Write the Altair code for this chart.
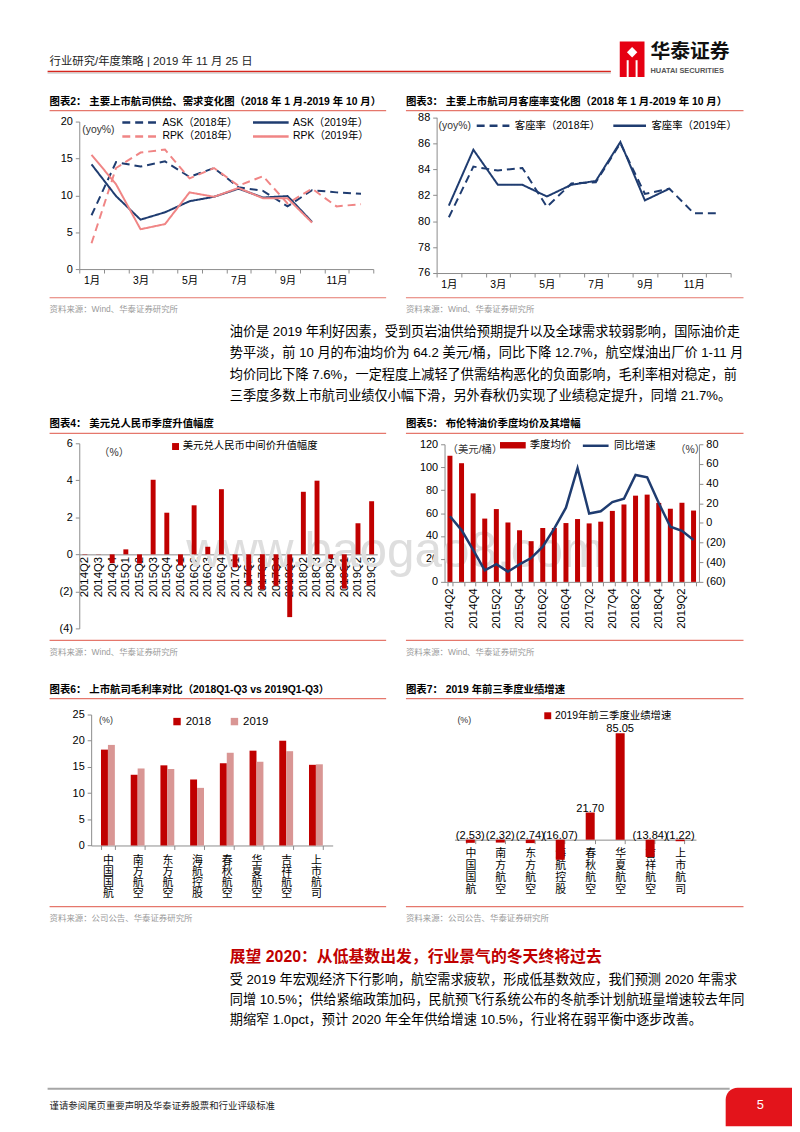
import altair as alt
import pandas as pd

# ============================ data ============================
months = [1, 2, 3, 4, 5, 6, 7, 8, 9, 10, 11, 12]
ask_2018 = [7.3, 14.5, 13.9, 14.6, 12.5, 13.7, 11.1, 10.6, 8.5, 10.7, 10.4, 10.2]
rpk_2018 = [3.5, 13.7, 15.8, 16.2, 12.3, 13.7, 11.3, 12.6, 8.9, 10.9, 8.5, 8.8]
ask_2019 = [14.2, 9.9, 6.7, 7.7, 9.2, 9.8, 10.9, 9.7, 9.9, 6.4]
rpk_2019 = [15.5, 11.5, 5.4, 6.1, 10.4, 9.8, 11.0, 9.6, 9.6, 6.3]
# legend fills column by column: ASK 2018 / RPK 2018 in column 1, 2019 in column 2
series2 = ["ASK（2018年）", "RPK（2018年）", "ASK（2019年）", "RPK（2019年）"]

plf_2018 = [80.3, 84.2, 83.9, 84.1, 81.1, 82.9, 83.0, 86.0, 82.1, 82.5, 80.6, 80.6]
plf_2019 = [81.2, 85.5, 82.8, 82.8, 81.9, 82.8, 83.1, 86.1, 81.6, 82.5]
series3 = ["客座率（2018年）", "客座率（2019年）"]

quarters = ["2014Q2", "2014Q3", "2014Q4", "2015Q1", "2015Q2", "2015Q3", "2015Q4",
            "2016Q1", "2016Q2", "2016Q3", "2016Q4", "2017Q1", "2017Q2", "2017Q3",
            "2017Q4", "2018Q1", "2018Q2", "2018Q3", "2018Q4", "2019Q1", "2019Q2", "2019Q3"]
cny_change = [0.02, 0.01, -0.48, 0.27, -0.5, 4.03, 2.25, -0.6, 2.65, 0.41, 3.52,
              -0.7, -1.7, -1.9, -1.7, -3.39, 3.38, 3.98, -0.23, -1.85, 1.68, 2.87]
brent_avg = [110.0, 103.5, 77.2, 55.2, 63.5, 51.8, 45.0, 35.5, 47.0, 47.0, 51.3,
             54.8, 51.0, 52.5, 61.9, 67.5, 75.2, 76.1, 68.9, 63.8, 69.0, 62.2]
brent_yoy = [6.8, -7.3, -27.4, -48.3, -41.9, -49.6, -42.2, -35.8, -24.1, -5.6, 15.5,
             55.8, 9.5, 11.8, 21.2, 24.6, 48.8, 46.4, 20.2, -3.9, -8.0, -17.4]

airlines = ["中国国航", "南方航空", "东方航空", "海航控股", "春秋航空", "华夏航空", "吉祥航空", "上市航司"]
gm_2018 = [18.3, 13.5, 15.3, 12.6, 15.7, 18.1, 20.0, 15.4]
gm_2019 = [19.2, 14.7, 14.6, 11.0, 17.7, 16.0, 18.0, 15.5]
profit_growth = [-2.53, -2.32, -2.74, -16.07, 21.70, 85.05, -13.84, -1.22]

para1 = [
    "油价是 2019 年利好因素，受到页岩油供给预期提升以及全球需求较弱影响，国际油价走",
    "势平淡，前 10 月的布油均价为 64.2 美元/桶，同比下降 12.7%，航空煤油出厂价 1-11 月",
    "均价同比下降  7.6%，一定程度上减轻了供需结构恶化的负面影响，毛利率相对稳定，前",
    "三季度多数上市航司业绩仅小幅下滑，另外春秋仍实现了业绩稳定提升，同增 21.7%。",
]
heading2 = "展望 2020：从低基数出发，行业景气的冬天终将过去"
para2 = [
    "受 2019 年宏观经济下行影响，航空需求疲软，形成低基数效应，我们预测 2020 年需求",
    "同增 10.5%；供给紧缩政策加码，民航预飞行系统公布的冬航季计划航班量增速较去年同",
    "期缩窄 1.0pct，预计 2020 年全年供给增速 10.5%，行业将在弱平衡中逐步改善。",
]

# ============================ layout / style ============================
W, H = 784, 1116
M = 8


def X(p):
    return p - M


def Y(p):
    return p - M


SANS = "Liberation Sans, Noto Sans CJK SC"
NAVY = "#1F3C70"
PINK = "#F08585"
RED = "#C00000"
ROSE = "#D99694"
RULE_RED = "#E5776C"
AXIS_GRAY = "#8C8C8C"
SRC_GRAY = "#9A9A9A"
PAREN = "datum.value < 0 ? '(' + abs(datum.value) + ')' : datum.label"


def text_layer(s, x, y, size=10.5, color="#000000", weight="normal", align="left",
               baseline="middle", font=SANS, **kw):
    return alt.Chart(pd.DataFrame({"t": [s]})).mark_text(
        align=align, baseline=baseline, fontSize=size, color=color,
        fontWeight=weight, font=font, **kw
    ).encode(x=alt.value(X(x)), y=alt.value(Y(y)), text="t:N")


def hline(x1, x2, y, color, width=1.0):
    return alt.Chart(pd.DataFrame({"t": [0]})).mark_rule(color=color, strokeWidth=width).encode(
        x=alt.value(X(x1)), x2=alt.value(X(x2)), y=alt.value(Y(y)))


def rect(x1, x2, y1, y2, color, **kw):
    return alt.Chart(pd.DataFrame({"t": [0]})).mark_rect(color=color, **kw).encode(
        x=alt.value(X(x1)), x2=alt.value(X(x2)), y=alt.value(Y(y1)), y2=alt.value(Y(y2)))


def y_axis(xpos, values, orient="left", expr=None, size=11):
    off = -X(xpos) if orient == "left" else X(xpos) - W
    kw = dict(orient=orient, offset=off, values=values, title=None, grid=False,
              domainColor=AXIS_GRAY, tickColor=AXIS_GRAY, tickSize=4,
              labelFont=SANS, labelFontSize=size, labelColor="#000000", labelPadding=3)
    if expr:
        kw["labelExpr"] = expr
    return alt.Axis(**kw)


def x_axis(ypos, expr=None, angle=0, ticks=True, size=11, pad=3, **extra):
    kw = dict(orient="bottom", offset=Y(ypos) - H, title=None, grid=False,
              domainColor=AXIS_GRAY, tickColor=AXIS_GRAY, tickSize=4, ticks=ticks,
              tickBand="extent", labelFont=SANS, labelFontSize=size,
              labelColor="#000000", labelAngle=angle, labelPadding=pad)
    if expr:
        kw["labelExpr"] = expr
    kw.update(extra)
    return alt.Axis(**kw)


def band(domain, x0, x1, pin, pout):
    return alt.Scale(type="band", domain=domain, range=[X(x0), X(x1)],
                     paddingInner=pin, paddingOuter=pout)


def lin(domain, y0, y1):
    return alt.Scale(domain=domain, range=[Y(y0), Y(y1)], nice=False, zero=False)


def legend(x, y, **kw):
    base = dict(orient="none", legendX=X(x), legendY=Y(y), title=None,
                labelFont=SANS, labelFontSize=10.5, labelColor="#000000", padding=0)
    base.update(kw)
    return alt.Legend(**base)


layers = []

# watermark
layers.append(text_layer("www.baogao8.com", 188, 552, size=50, color="#DEDEDE",
                         font="Liberation Sans"))

# ============================ header ============================
layers.append(text_layer("行业研究/年度策略 | 2019 年 11 月 25 日", 50, 57, size=11.5, color="#222222"))
layers.append(hline(48, 617, 66.5, "#D7261E", 1.5))
layers.append(hline(48, 617, 68, "#BFBFBF", 1))
layers.append(rect(626, 651, 36, 72, "#E60012"))
layers.append(alt.Chart(pd.DataFrame({"t": [0]})).mark_point(
    shape="diamond", filled=True, color="white", size=110, opacity=1).encode(
    x=alt.value(X(638.5)), y=alt.value(Y(47))))
layers.append(rect(633, 635, 55, 72, "white"))
layers.append(rect(642, 644, 55, 72, "white"))
layers.append(text_layer("华泰证券", 657, 47, size=20, weight="bold", color="#111111"))
layers.append(text_layer("HUATAI SECURITIES", 657, 65.5, size=7.5, weight="bold", color="#555555"))

# ============================ chart frames ============================
frames = [
    (50, 390, 97, 295, "图表2：  主要上市航司供给、需求变化图（2018 年 1 月-2019 年 10 月）", "资料来源：Wind、华泰证券研究所"),
    (410, 751, 97, 295, "图表3：  主要上市航司月客座率变化图（2018 年 1 月-2019 年 10 月）", "资料来源：Wind、华泰证券研究所"),
    (50, 390, 423, 641, "图表4：  美元兑人民币季度升值幅度", "资料来源：Wind、华泰证券研究所"),
    (410, 751, 423, 641, "图表5：  布伦特油价季度均价及其增幅", "资料来源：Wind、华泰证券研究所"),
    (50, 390, 691, 910, "图表6：  上市航司毛利率对比（2018Q1-Q3 vs 2019Q1-Q3）", "资料来源：公司公告、华泰证券研究所"),
    (410, 751, 691, 910, "图表7：  2019 年前三季度业绩增速", "资料来源：公司公告、华泰证券研究所"),
]
for x0, x1, ty, by, title, src in frames:
    layers.append(text_layer(title, x0, ty, size=10.5, weight="bold"))
    layers.append(hline(x0, x1, ty + 9, RULE_RED, 1.2))
    layers.append(hline(x0, x1, by, RULE_RED, 1.2))
    layers.append(text_layer(src, x0, by + 11.5, size=8.5, color=SRC_GRAY))

# ============================ chart 2 ============================
vals2 = {"ASK（2018年）": ask_2018, "RPK（2018年）": rpk_2018,
         "ASK（2019年）": ask_2019, "RPK（2019年）": rpk_2019}
rows = []
for name in series2:
    for m, v in zip(months, vals2[name]):
        rows.append({"month": m, "value": v, "series": name})
df2 = pd.DataFrame(rows)
MONTH_EXPR = "datum.value % 2 == 1 ? datum.value + '月' : ''"
leg2 = legend(134, 110.5, columns=2, symbolType="M-3,0H3", symbolSize=144,
              symbolStrokeWidth=2.5, labelOffset=15, columnPadding=9, rowPadding=1)
c2 = alt.Chart(df2).mark_line(strokeWidth=2).encode(
    x=alt.X("month:O", scale=band(months, 80, 377, 0, 0),
            axis=x_axis(266, expr=MONTH_EXPR, size=10.5), bandPosition=0.5),
    y=alt.Y("value:Q", scale=lin([0, 20], 266, 117), axis=y_axis(80, [0, 5, 10, 15, 20])),
    color=alt.Color("series:N", scale=alt.Scale(domain=series2, range=[NAVY, PINK, NAVY, PINK]), legend=leg2),
    strokeDash=alt.StrokeDash("series:N", scale=alt.Scale(domain=series2, range=[[8, 5], [8, 5], [1, 0], [1, 0]]), legend=leg2),
)
layers.append(c2)
layers.append(text_layer("(yoy%)", 83, 126, size=10.5, color="#333333"))

# ============================ chart 3 ============================
rows = []
for name, vals in zip(series3, [plf_2018, plf_2019]):
    for m, v in zip(months, vals):
        rows.append({"month": m, "value": v, "series": name})
df3 = pd.DataFrame(rows)
leg3 = legend(491, 114, columns=2, symbolType="M-3,0H3", symbolSize=121,
              symbolStrokeWidth=2.5, labelOffset=15, columnPadding=7)
c3 = alt.Chart(df3).mark_line(strokeWidth=2).encode(
    x=alt.X("month:O", scale=band(months, 441, 738, 0, 0),
            axis=x_axis(270, expr=MONTH_EXPR, size=10.5), bandPosition=0.5),
    y=alt.Y("value:Q", scale=lin([76, 88], 270, 112.7), axis=y_axis(441, [76, 78, 80, 82, 84, 86, 88])),
    color=alt.Color("series:N", scale=alt.Scale(domain=series3, range=[NAVY, NAVY]), legend=leg3),
    strokeDash=alt.StrokeDash("series:N", scale=alt.Scale(domain=series3, range=[[8, 5], [1, 0]]), legend=leg3),
)
layers.append(c3)
layers.append(text_layer("(yoy%)", 443, 121, size=10.5, color="#333333"))

# ============================ chart 4 ============================
s4 = "美元兑人民币中间价升值幅度"
df4 = pd.DataFrame({"q": quarters, "v": cny_change, "s": [s4] * len(quarters)})
c4 = alt.Chart(df4).mark_bar().encode(
    x=alt.X("q:N", scale=band(quarters, 80, 381, 0.64, 0.23),
            axis=x_axis(554.2, angle=-90, ticks=False, size=11.5, pad=2)),
    y=alt.Y("v:Q", scale=lin([-4, 6], 629, 442), axis=y_axis(80, [-4, -2, 0, 2, 4, 6], expr=PAREN)),
    color=alt.Color("s:N", scale=alt.Scale(domain=[s4], range=[RED]),
                    legend=legend(172, 440, symbolType="square", symbolSize=49, labelOffset=2)),
)
layers.append(c4)
layers.append(text_layer("（%）", 100, 452, size=10.5, color="#333333"))

# ============================ chart 5 ============================
s5a, s5b = "季度均价", "同比增速"
df5 = pd.DataFrame({"q": quarters, "avg": brent_avg, "yoy": brent_yoy,
                    "sa": [s5a] * len(quarters), "sb": [s5b] * len(quarters)})
Q_EXPR = "indexof(['Q2','Q4'], substring(datum.value, 4)) >= 0 ? datum.value : ''"
ax5 = x_axis(582, expr=Q_EXPR, angle=-90, size=11.5, pad=2)
sc5 = band(quarters, 449, 706, 0.57, 0.25)
bars5 = alt.Chart(df5).mark_bar().encode(
    x=alt.X("q:N", scale=sc5, axis=ax5),
    y=alt.Y("avg:Q", scale=lin([0, 120], 582, 443), axis=y_axis(449, [0, 20, 40, 60, 80, 100, 120])),
    color=alt.Color("sa:N", scale=alt.Scale(domain=[s5a], range=[RED]),
                    legend=legend(510.5, 436.5, symbolType="M-2,-0.5H2V0.5H-2Z", symbolSize=169, labelOffset=9.5)),
)
line5 = alt.Chart(df5).mark_line(strokeWidth=2.5).encode(
    x=alt.X("q:N", scale=sc5, axis=ax5, bandPosition=0.5),
    y=alt.Y("yoy:Q", scale=lin([-60, 80], 582, 443),
            axis=y_axis(706, [-60, -40, -20, 0, 20, 40, 60, 80], orient="right", expr=PAREN)),
    stroke=alt.Stroke("sb:N", scale=alt.Scale(domain=[s5b], range=[NAVY]),
                      legend=legend(595.7, 438.5, symbolType="M-3,0H3", symbolSize=75,
                                    symbolStrokeWidth=2.5, labelOffset=12.6)),
)
c5 = alt.layer(bars5, line5).resolve_scale(y="independent").resolve_axis(y="independent")
layers.append(c5)
layers.append(text_layer("（美元/桶）", 452, 449, size=10.5, color="#333333"))
layers.append(text_layer("（%）", 682, 449, size=10.5, color="#333333"))

# ============================ chart 6 ============================
rows = []
for a, v18, v19 in zip(airlines, gm_2018, gm_2019):
    rows.append({"a": a, "year": "2018", "v": v18})
    rows.append({"a": a, "year": "2019", "v": v19})
df6 = pd.DataFrame(rows)
CHAR_EXPR = "split(datum.label, '')"
ax6 = x_axis(848.3, expr=CHAR_EXPR, size=11, pad=5, labelLineHeight=11.3)
sc6 = band(airlines, 92, 336, 0.53, 0.33)
y6 = alt.Y("v:Q", scale=lin([0, 25], 848.3, 716), axis=y_axis(92, [0, 5, 10, 15, 20, 25]))
col6 = alt.Color("year:N", scale=alt.Scale(domain=["2018", "2019"], range=[RED, ROSE]),
                 legend=legend(173, 717, columns=2, symbolType="square", symbolSize=56,
                               labelOffset=3, columnPadding=17, labelFontSize=11.5))
b18 = alt.Chart(df6).transform_filter("datum.year == '2018'").mark_bar(width=7, xOffset=-3.5).encode(
    x=alt.X("a:N", scale=sc6, axis=ax6), y=y6, color=col6)
b19 = alt.Chart(df6).transform_filter("datum.year == '2019'").mark_bar(width=7, xOffset=3.5).encode(
    x=alt.X("a:N", scale=sc6, axis=ax6), y=y6, color=col6)
layers.append(alt.layer(b18, b19))
layers.append(text_layer("(%)", 100, 722, size=9, color="#333333"))

# ============================ chart 7 ============================
s7 = "2019年前三季度业绩增速"
labels7 = [f"({abs(v):.2f})" if v < 0 else f"{v:.2f}" for v in profit_growth]
df7 = pd.DataFrame({"a": airlines, "v": profit_growth, "lab": labels7, "s": [s7] * len(airlines)})
sc7 = band(airlines, 459, 703, 0.70, 0.38)
ax7 = x_axis(842.4, expr=CHAR_EXPR, size=11, pad=4, labelLineHeight=12.3)
ysc7 = lin([-40, 100], 893, 716)
bars7 = alt.Chart(df7).mark_bar().encode(
    x=alt.X("a:N", scale=sc7, axis=ax7),
    y=alt.Y("v:Q", scale=ysc7, axis=y_axis(459, [-40, -20, 0, 20, 40, 60, 80, 100], expr=PAREN)),
    color=alt.Color("s:N", scale=alt.Scale(domain=[s7], range=[RED]),
                    legend=legend(548, 712, symbolType="square", symbolSize=49, labelOffset=2)),
)
text7 = alt.Chart(df7).transform_calculate(ylab="max(datum.v, 0)").mark_text(
    baseline="bottom", dy=1, fontSize=11.2, font=SANS, color="#000000").encode(
    x=alt.X("a:N", scale=sc7, axis=ax7),
    y=alt.Y("ylab:Q", scale=ysc7, axis=None),
    text="lab:N",
)
layers.append(alt.layer(bars7, text7))
layers.append(text_layer("(%)", 462, 722, size=9, color="#333333"))

# ============================ text blocks ============================
for i, line in enumerate(para1):
    layers.append(text_layer(line, 232, 330 + i * 21.3, size=13.3))
layers.append(text_layer(heading2, 232, 961, size=16, weight="bold", color=RED))
for i, line in enumerate(para2):
    layers.append(text_layer(line, 232, 984 + i * 20.5, size=13.3))

# ============================ footer ============================
layers.append(hline(48, 737, 1094, "#A6A6A6", 2))
layers.append(text_layer("谨请参阅尾页重要声明及华泰证券股票和行业评级标准", 50, 1111, size=9.5, color="#222222"))
layers.append(rect(733, 800, 1093, 1132, "#E3141B", cornerRadiusTopLeft=12))
layers.append(text_layer("5", 768, 1111, size=13, color="white", align="center"))

chart = alt.layer(*layers).properties(
    width=W, height=H,
    autosize=alt.AutoSizeParams(type="none"),
    padding={"left": 0, "top": 0, "right": 8, "bottom": 8},
).resolve_scale(
    x="independent", y="independent", color="independent", stroke="independent", strokeDash="independent"
).resolve_axis(x="independent", y="independent").resolve_legend(
    color="independent", stroke="independent", strokeDash="independent"
).configure_view(stroke=None)

chart.save("out.html", embed_options={"renderer": "svg", "actions": False})
